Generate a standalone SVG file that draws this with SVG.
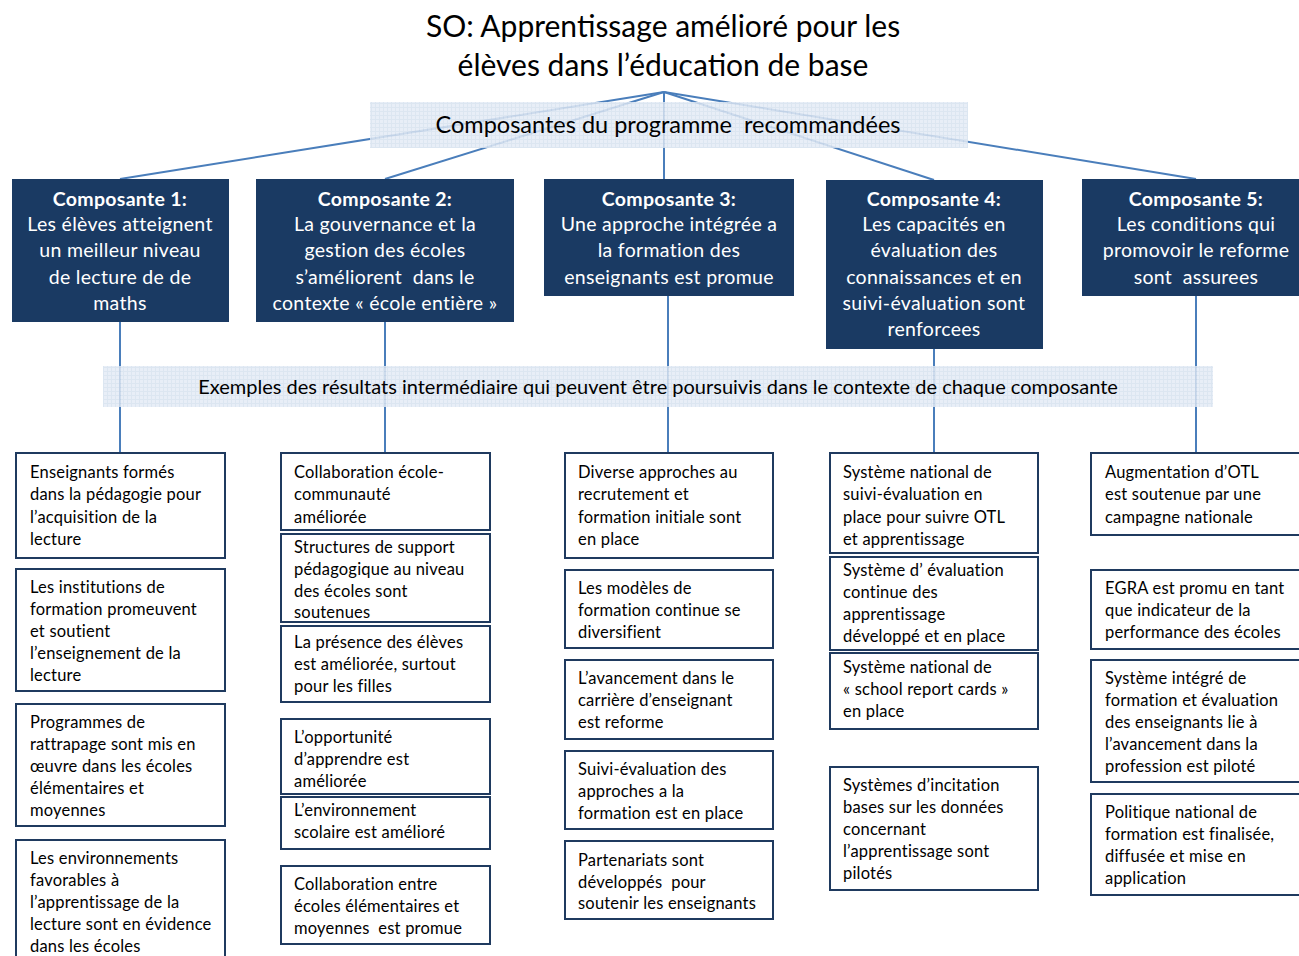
<svg xmlns="http://www.w3.org/2000/svg" width="1299" height="956" viewBox="0 0 1299 956">
<style>
.title{font-family:Lato,"Liberation Sans",sans-serif;font-size:30px;fill:#000;text-anchor:middle}
.ban{font-family:Lato,"Liberation Sans",sans-serif;fill:#000;text-anchor:middle}
.comp rect{fill:#1a3a63}
.comp text{font-family:Lato,"Liberation Sans",sans-serif;font-size:19.5px;letter-spacing:0.3px;fill:#fff;text-anchor:middle}
.comp .h{font-weight:bold}
.res rect{fill:#fff;stroke:#1f3a5f;stroke-width:2}
.res text{font-family:Lato,"Liberation Sans",sans-serif;font-size:16.5px;letter-spacing:0.2px;fill:#000}
.conn line{stroke:#4a7ebb;stroke-width:2}
</style>
<defs>
<pattern id="grid" width="4" height="4" patternUnits="userSpaceOnUse">
<rect width="4" height="4" fill="#d6e1ef"/>
<rect width="3" height="3" fill="#e4ebf5"/>
</pattern>
</defs>
<rect width="1299" height="956" fill="#fff"/>
<g id="title">
<text class="title" x="663" y="37">SO: Apprentissage amélioré pour les</text>
<text class="title" x="663" y="76">élèves dans l’éducation de base</text>
</g>
<g id="connectors" class="conn">
<line x1="664" y1="92" x2="120" y2="179"/>
<line x1="664" y1="92" x2="385" y2="179"/>
<line x1="664" y1="92" x2="664" y2="179"/>
<line x1="664" y1="92" x2="934" y2="180"/>
<line x1="664" y1="92" x2="1196" y2="179"/>
<line x1="120" y1="322" x2="120" y2="453"/>
<line x1="385" y1="322" x2="385" y2="453"/>
<line x1="668" y1="296" x2="668" y2="453"/>
<line x1="934" y1="349" x2="934" y2="453"/>
<line x1="1196" y1="296" x2="1196" y2="453"/>
</g>
<g id="banner1">
<rect x="370" y="102" width="598" height="46" fill="url(#grid)" opacity="0.85"/>
<text class="ban" x="668" y="133" font-size="23.5">Composantes du programme &#160;recommandées</text>
</g>
<g id="banner2">
<rect x="103" y="366" width="1110" height="41" fill="url(#grid)" opacity="0.85"/>
<text class="ban" x="658" y="394" font-size="20">Exemples des résultats intermédiaire qui peuvent être poursuivis dans le contexte de chaque composante</text>
</g>
<g id="comp1" class="comp">
<rect x="12" y="179" width="217" height="143"/>
<text class="h" x="120" y="206">Composante 1:</text>
<text x="120" y="231">Les élèves atteignent</text>
<text x="120" y="257">un meilleur niveau</text>
<text x="120" y="284">de lecture de de</text>
<text x="120" y="310">maths</text>
</g>
<g id="comp2" class="comp">
<rect x="256" y="179" width="258" height="143"/>
<text class="h" x="385" y="206">Composante 2:</text>
<text x="385" y="231">La gouvernance et la</text>
<text x="385" y="257">gestion des écoles</text>
<text x="385" y="284">s’améliorent &#160;dans le</text>
<text x="385" y="310">contexte « école entière »</text>
</g>
<g id="comp3" class="comp">
<rect x="544" y="179" width="250" height="117"/>
<text class="h" x="669" y="206">Composante 3:</text>
<text x="669" y="231">Une approche intégrée a</text>
<text x="669" y="257">la formation des</text>
<text x="669" y="284">enseignants est promue</text>
</g>
<g id="comp4" class="comp">
<rect x="826" y="180" width="217" height="169"/>
<text class="h" x="934" y="206">Composante 4:</text>
<text x="934" y="231">Les capacités en</text>
<text x="934" y="257">évaluation des</text>
<text x="934" y="284">connaissances et en</text>
<text x="934" y="310">suivi-évaluation sont</text>
<text x="934" y="336">renforcees</text>
</g>
<g id="comp5" class="comp">
<rect x="1082" y="179" width="217" height="117"/>
<text class="h" x="1196" y="206">Composante 5:</text>
<text x="1196" y="231">Les conditions qui</text>
<text x="1196" y="257">promovoir le reforme</text>
<text x="1196" y="284">sont &#160;assurees</text>
</g>
<g id="r1a" class="res"><rect x="16" y="453" width="209" height="105"/>
<text x="30" y="478">Enseignants formés</text><text x="30" y="500">dans la pédagogie pour</text><text x="30" y="523">l’acquisition de la</text><text x="30" y="545">lecture</text></g>
<g id="r1b" class="res"><rect x="16" y="569" width="209" height="122"/>
<text x="30" y="593">Les institutions de</text><text x="30" y="615">formation promeuvent</text><text x="30" y="637">et soutient</text><text x="30" y="659">l’enseignement de la</text><text x="30" y="681">lecture</text></g>
<g id="r1c" class="res"><rect x="16" y="704" width="209" height="122"/>
<text x="30" y="728">Programmes de</text><text x="30" y="750">rattrapage sont mis en</text><text x="30" y="772">œuvre dans les écoles</text><text x="30" y="794">élémentaires et</text><text x="30" y="816">moyennes</text></g>
<g id="r1d" class="res"><rect x="16" y="840" width="209" height="124"/>
<text x="30" y="864">Les environnements</text><text x="30" y="886">favorables à</text><text x="30" y="908">l’apprentissage de la</text><text x="30" y="930">lecture sont en évidence</text><text x="30" y="952">dans les écoles</text></g>
<g id="r2a" class="res"><rect x="281" y="453" width="209" height="77"/>
<text x="294" y="478">Collaboration école-</text><text x="294" y="500">communauté</text><text x="294" y="523">améliorée</text></g>
<g id="r2b" class="res"><rect x="281" y="534" width="209" height="88"/>
<text x="294" y="553">Structures de support</text><text x="294" y="575">pédagogique au niveau</text><text x="294" y="597">des écoles sont</text><text x="294" y="618">soutenues</text></g>
<g id="r2c" class="res"><rect x="281" y="626" width="209" height="76"/>
<text x="294" y="648">La présence des élèves</text><text x="294" y="670">est améliorée, surtout</text><text x="294" y="692">pour les filles</text></g>
<g id="r2d" class="res"><rect x="281" y="719" width="209" height="75"/>
<text x="294" y="743">L’opportunité</text><text x="294" y="765">d’apprendre est</text><text x="294" y="787">améliorée</text></g>
<g id="r2e" class="res"><rect x="281" y="797" width="209" height="52"/>
<text x="294" y="816">L’environnement</text><text x="294" y="838">scolaire est amélioré</text></g>
<g id="r2f" class="res"><rect x="281" y="866" width="209" height="78"/>
<text x="294" y="890">Collaboration entre</text><text x="294" y="912">écoles élémentaires et</text><text x="294" y="934">moyennes &#160;est promue</text></g>
<g id="r3a" class="res"><rect x="565" y="453" width="208" height="105"/>
<text x="578" y="478">Diverse approches au</text><text x="578" y="500">recrutement et</text><text x="578" y="523">formation initiale sont</text><text x="578" y="545">en place</text></g>
<g id="r3b" class="res"><rect x="565" y="570" width="208" height="78"/>
<text x="578" y="594">Les modèles de</text><text x="578" y="616">formation continue se</text><text x="578" y="638">diversifient</text></g>
<g id="r3c" class="res"><rect x="565" y="660" width="208" height="79"/>
<text x="578" y="684">L’avancement dans le</text><text x="578" y="706">carrière d’enseignant</text><text x="578" y="728">est reforme</text></g>
<g id="r3d" class="res"><rect x="565" y="751" width="208" height="78"/>
<text x="578" y="775">Suivi-évaluation des</text><text x="578" y="797">approches a la</text><text x="578" y="819">formation est en place</text></g>
<g id="r3e" class="res"><rect x="565" y="841" width="208" height="78"/>
<text x="578" y="866">Partenariats sont</text><text x="578" y="888">développés &#160;pour</text><text x="578" y="909">soutenir les enseignants</text></g>
<g id="r4a" class="res"><rect x="830" y="453" width="208" height="100"/>
<text x="843" y="478">Système national de</text><text x="843" y="500">suivi-évaluation en</text><text x="843" y="523">place pour suivre OTL</text><text x="843" y="545">et apprentissage</text></g>
<g id="r4b" class="res"><rect x="830" y="557" width="208" height="93"/>
<text x="843" y="576">Système d’ évaluation</text><text x="843" y="598">continue des</text><text x="843" y="620">apprentissage</text><text x="843" y="642">développé et en place</text></g>
<g id="r4c" class="res"><rect x="830" y="653" width="208" height="76"/>
<text x="843" y="673">Système national de</text><text x="843" y="695">« school report cards »</text><text x="843" y="717">en place</text></g>
<g id="r4d" class="res"><rect x="830" y="767" width="208" height="123"/>
<text x="843" y="791">Systèmes d’incitation</text><text x="843" y="813">bases sur les données</text><text x="843" y="835">concernant</text><text x="843" y="857">l’apprentissage sont</text><text x="843" y="879">pilotés</text></g>
<g id="r5a" class="res"><rect x="1091" y="453" width="214" height="82"/>
<text x="1105" y="478">Augmentation d’OTL</text><text x="1105" y="500">est soutenue par une</text><text x="1105" y="523">campagne nationale</text></g>
<g id="r5b" class="res"><rect x="1091" y="570" width="214" height="79"/>
<text x="1105" y="594">EGRA est promu en tant</text><text x="1105" y="616">que indicateur de la</text><text x="1105" y="638">performance des écoles</text></g>
<g id="r5c" class="res"><rect x="1091" y="660" width="214" height="122"/>
<text x="1105" y="684">Système intégré de</text><text x="1105" y="706">formation et évaluation</text><text x="1105" y="728">des enseignants lie à</text><text x="1105" y="750">l’avancement dans la</text><text x="1105" y="772">profession est piloté</text></g>
<g id="r5d" class="res"><rect x="1091" y="794" width="214" height="101"/>
<text x="1105" y="818">Politique national de</text><text x="1105" y="840">formation est finalisée,</text><text x="1105" y="862">diffusée et mise en</text><text x="1105" y="884">application</text></g>
</svg>
